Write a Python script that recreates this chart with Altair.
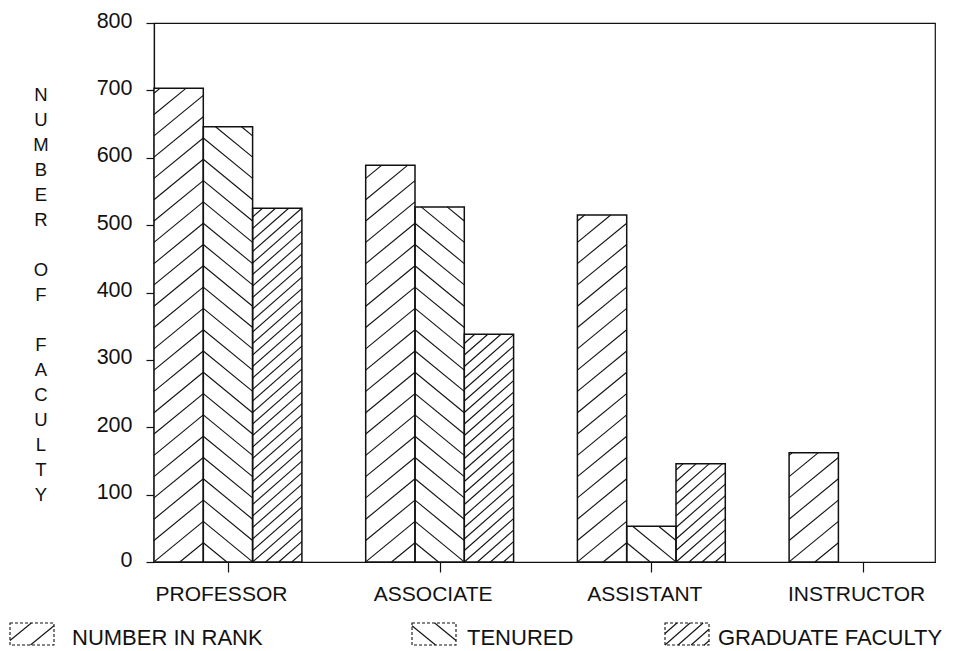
import math
import altair as alt
import pandas as pd

# ---------------- data ----------------
categories = ["PROFESSOR", "ASSOCIATE", "ASSISTANT", "INSTRUCTOR"]
series = ["NUMBER IN RANK", "TENURED", "GRADUATE FACULTY"]
number_in_rank = [703, 589, 515, 162]
tenured = [646, 527, 53, 0]
graduate_faculty = [525, 338, 146, 0]
y_ticks = [0, 100, 200, 300, 400, 500, 600, 700, 800]
y_title_lines = ["N", "U", "M", "B", "E", "R", "", "O", "F", "", "F", "A", "C", "U", "L", "T", "Y"]

values_by_series = [number_in_rank, tenured, graduate_faculty]

# ---------------- layout constants ----------------
W, H = 781, 539            # plot area in px
GROUP_PX, BAR_PX = 211.7, 49.3
XMAX = W / GROUP_PX
BW = BAR_PX / GROUP_PX
YMAX = 800
PXX = GROUP_PX             # px per x unit
PXY = H / YMAX             # px per y unit
FONT = "Liberation Sans"

hatch_style = {
    "NUMBER IN RANK": dict(t=0.82, d=21.3, ref="right", c0=-2.0),
    "TENURED": dict(t=-0.82, d=21.3, ref="left", c0=-2.0),
    "GRADUATE FACULTY": dict(t=0.88, d=11.5, ref="left", c0=0.0),
}


def hatch(x0, x1, h, t, d, xref, c0):
    """Segments of lines y = t*(x-xref)+c (y up) clipped to [x0,x1]x[0,h]."""
    vals = [yy - t * (xx - xref) for xx in (x0, x1) for yy in (0, h)]
    kmin = math.ceil((min(vals) - c0) / d)
    kmax = math.floor((max(vals) - c0) / d)
    segs = []
    for k in range(kmin, kmax + 1):
        c = c0 + k * d
        xa = xref + (0 - c) / t
        xb = xref + (h - c) / t
        lo, hi = sorted([xa, xb])
        lo, hi = max(lo, x0), min(hi, x1)
        if hi - lo < 0.6:
            continue
        segs.append((lo, c + t * (lo - xref), hi, c + t * (hi - xref)))
    return segs


# ---------------- bars & hatching (data units) ----------------
bar_rows, hatch_rows = [], []
for i, cat in enumerate(categories):
    for j, s in enumerate(series):
        v = values_by_series[j][i]
        if v <= 0:
            continue
        x0 = i + j * BW
        x1 = x0 + BW
        bar_rows.append(dict(category=cat, series=s, x0=x0, x1=x1, value=v, zero=0))
        st = hatch_style[s]
        x0p, x1p, hp = x0 * PXX, x1 * PXX, v * PXY
        xref = x1p if st["ref"] == "right" else x0p
        for (a, b, c, dd) in hatch(x0p, x1p, hp, st["t"], st["d"], xref, st["c0"]):
            hatch_rows.append(dict(x0=a / PXX, value=b / PXY, x1=c / PXX, zero=dd / PXY))

bars = pd.DataFrame(bar_rows)
hatches = pd.DataFrame(hatch_rows)

# ---------------- legend & y title (pixel layout, relative to plot origin) ----------------
PL, PT = 154, 23
sw_left = [10, 412, 665]
txt_left = [72, 467, 718]
SW_W, SW_H, SW_TOP = 44, 22, 623
TXT_BASE = 645
TITLE_X, TITLE_Y0, TITLE_STEP = 41, 95, 25

sw_rows, sw_hatch_rows, leg_txt_rows = [], [], []
for k, s in enumerate(series):
    lx0 = sw_left[k] - PL
    ly0 = SW_TOP - PT
    sw_rows.append(dict(lx=lx0, lx2=lx0 + SW_W, ly=ly0, ly2=ly0 + SW_H))
    st = hatch_style[s]
    xref = SW_W if st["ref"] == "right" else 0
    for (a, b, c, dd) in hatch(0, SW_W, SW_H, st["t"], st["d"], xref, st["c0"]):
        sw_hatch_rows.append(dict(lx=lx0 + a, ly=ly0 + SW_H - b, lx2=lx0 + c, ly2=ly0 + SW_H - dd))
    leg_txt_rows.append(dict(lx=txt_left[k] - PL, ly=TXT_BASE - PT, label=s))

title_rows = [
    dict(lx=TITLE_X - PL, ly=TITLE_Y0 + n * TITLE_STEP - PT, label=ch)
    for n, ch in enumerate(y_title_lines) if ch
]

sw_df = pd.DataFrame(sw_rows)
sw_hatch_df = pd.DataFrame(sw_hatch_rows)
leg_txt_df = pd.DataFrame(leg_txt_rows)
title_df = pd.DataFrame(title_rows)

# ---------------- chart ----------------
tick_pos = [i + 1.5 * BW for i in range(len(categories))]
label_expr = "[" + ",".join("'" + c + "'" for c in categories) + "][floor(datum.value)]"

xscale = alt.Scale(domain=[0, XMAX], nice=False, zero=False)
yscale = alt.Scale(domain=[0, YMAX], nice=False)

x_axis = alt.Axis(
    values=tick_pos, labelExpr=label_expr, title=None, grid=False,
    tickSize=10, labelPadding=11, labelOffset=-7, labelFontSize=21,
    labelFont=FONT, labelColor="#111", tickColor="#111", domainColor="#111",
    domainWidth=1.2, tickWidth=1.2, labelAngle=0,
)
y_axis = alt.Axis(
    values=y_ticks, grid=False, tickSize=8, labelPadding=14, labelOffset=-2,
    labelFontSize=21.5, labelFont=FONT, labelColor="#111", tickColor="#111",
    domainColor="#111", domainWidth=1.2, tickWidth=1.2, title=None,
)


def xy_enc():
    return dict(
        x=alt.X("x0:Q", scale=xscale, axis=x_axis),
        x2="x1:Q",
        y=alt.Y("value:Q", scale=yscale, axis=y_axis),
        y2="zero:Q",
    )


base_bars = alt.Chart(bars).mark_rect(fill="white", stroke=None).encode(**xy_enc())
hatch_layer = alt.Chart(hatches).mark_rule(color="#111", strokeWidth=1.1).encode(**xy_enc())
outline = alt.Chart(bars).mark_rect(fill=None, stroke="#111", strokeWidth=1.5).encode(**xy_enc())

sw_rect = alt.Chart(sw_df).mark_rect(
    fill="white", stroke="#111", strokeWidth=1.1, strokeDash=[3, 2]
).encode(
    x=alt.X("lx:Q", scale=None),
    x2="lx2:Q",
    y=alt.Y("ly:Q", scale=None),
    y2="ly2:Q",
)

sw_hatch = alt.Chart(sw_hatch_df).mark_rule(color="#111", strokeWidth=1.1).encode(
    x=alt.X("lx:Q", scale=None),
    x2="lx2:Q",
    y=alt.Y("ly:Q", scale=None),
    y2="ly2:Q",
)

leg_text = alt.Chart(leg_txt_df).mark_text(
    align="left", baseline="alphabetic", fontSize=22, font=FONT, color="#111"
).encode(
    x=alt.X("lx:Q", scale=None),
    y=alt.Y("ly:Q", scale=None),
    text="label:N",
)

y_title = alt.Chart(title_df).mark_text(
    align="center", baseline="middle", fontSize=18.5, font=FONT, color="#111"
).encode(
    x=alt.X("lx:Q", scale=None),
    y=alt.Y("ly:Q", scale=None),
    text="label:N",
)

chart = alt.layer(
    base_bars, hatch_layer, outline, sw_rect, sw_hatch, leg_text, y_title
).properties(
    width=W, height=H,
    background="white",
    autosize=alt.AutoSizeParams(type="none"),
    padding={"left": PL - 8, "top": PT - 8, "right": 10, "bottom": 88},
).configure_view(
    stroke="#111", strokeWidth=1.2
)

chart.save("out.html", embed_options={"renderer": "svg", "actions": False})
